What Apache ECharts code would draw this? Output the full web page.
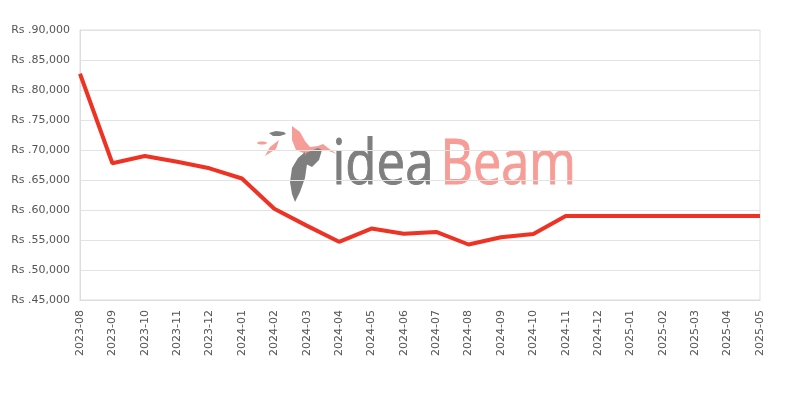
<!DOCTYPE html>
<html><head><meta charset="utf-8">
<script src="https://cdn.jsdelivr.net/npm/echarts@6/dist/echarts.min.js"></script>
<style>html,body{margin:0;padding:0;background:#fff}#c{width:800px;height:400px}</style>
</head><body><div id="c"></div>
<script>
var categories = ['2023-08','2023-09','2023-10','2023-11','2023-12','2024-01','2024-02','2024-03','2024-04','2024-05','2024-06','2024-07','2024-08','2024-09','2024-10','2024-11','2024-12','2025-01','2025-02','2025-03','2025-04','2025-05'];
var prices = [82700,67800,69000,68050,66950,65250,60200,57400,54700,56900,56050,56350,54250,55450,56000,59000,59000,59000,59000,59000,59000,59000];
var yMin = 45000, yMax = 90000, yStep = 5000;

var chart = echarts.init(document.getElementById('c'), null, {renderer:'canvas'});
var gray = '#7f7f7f', pink = '#f59d96';
chart.setOption({
  animation:false,
  backgroundColor:'#fff',
  grid:{left:80,right:40,top:30,bottom:100,show:true,borderColor:'#dddddd',borderWidth:1},
  graphic:[
    {type:'group',x:0,y:0,z:-1,silent:true,children:[
      {type:'polygon',z:-1,shape:{points:[[269,133],[276,131],[284,132],[286,134],[280,136],[273,136]]},style:{fill:gray}},
      {type:'ellipse',z:-1,shape:{cx:262,cy:143,rx:5,ry:1.5},style:{fill:pink}},
      {type:'polygon',z:-1,shape:{points:[[265,156],[270,147],[279,140],[276,149]]},style:{fill:pink}},
      {type:'polygon',z:-1,shape:{points:[[292,126],[300,132],[305,141],[310,147],[318,146],[323,144],[328,148],[337,154],[326,150],[318,152],[306,154],[296,150],[292,140]]},style:{fill:pink}},
      {type:'polygon',z:-1,shape:{points:[[306,153],[318,148],[322,150],[319,160],[312,167],[306,164],[304,158]]},style:{fill:gray}},
      {type:'polygon',z:-1,shape:{points:[[305,152],[298,158],[292,168],[290,182],[292,194],[295,202],[300,192],[305,178],[307,164]]},style:{fill:gray}}
    ]},
    {type:'text',left:332,top:134,z:-1,silent:true,style:{text:'idea',fill:gray,stroke:gray,lineWidth:1,font:'normal 63px "Open Sans"'},scaleX:0.81},
    {type:'text',left:440,top:134,z:-1,silent:true,style:{text:'Beam',fill:pink,stroke:pink,lineWidth:1,font:'normal 63px "Open Sans"'},scaleX:0.8}
  ],
  xAxis:{type:'category',data:categories,boundaryGap:false,
    axisLine:{show:true,lineStyle:{color:'#dddddd'}},axisTick:{show:false},
    axisLabel:{rotate:90,color:'#555',fontSize:11,fontFamily:'DejaVu Sans',margin:10,interval:0},
    splitLine:{show:false}},
  yAxis:{type:'value',min:yMin,max:yMax,interval:yStep,
    axisLine:{show:true,lineStyle:{color:'#dddddd'}},axisTick:{show:false},
    axisLabel:{color:'#555',fontSize:11,fontFamily:'DejaVu Sans',margin:10,
      formatter:function(v){return 'Rs .'+v.toLocaleString('en-US');}},
    splitLine:{lineStyle:{color:'#e3e3e3'}}},
  series:[{type:'line',data:prices,symbol:'none',z:5,lineStyle:{color:'#ee3224',width:4},itemStyle:{color:'#ee3224'}}]
});
</script></body></html>
